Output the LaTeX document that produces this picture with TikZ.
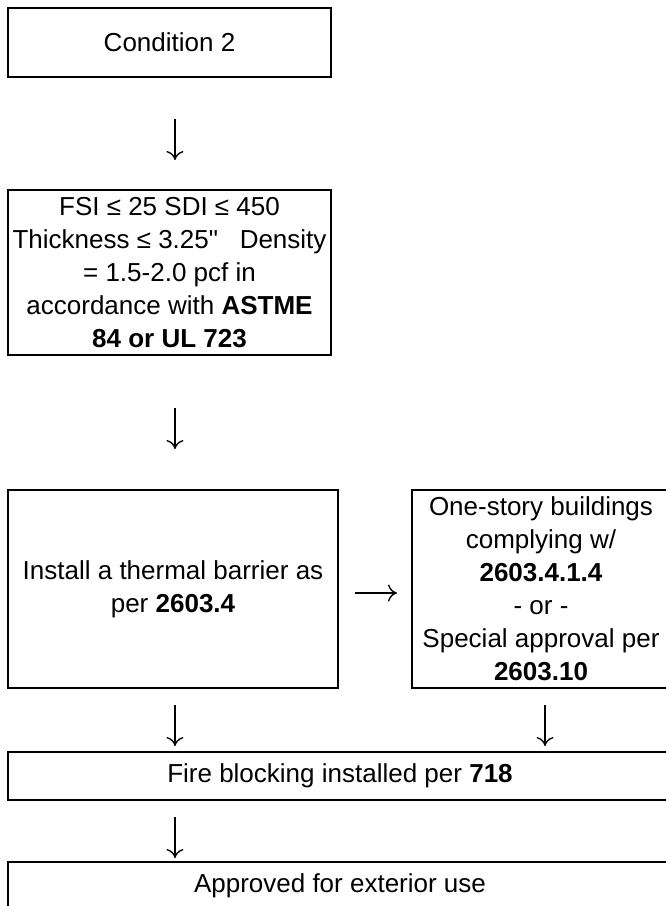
\documentclass[tikz,border=0pt]{standalone}
\usepackage{fontspec}
\setmainfont{Liberation Sans}[Ligatures=TeXOff]
\usetikzlibrary{arrows.meta}

\begin{document}
\begin{tikzpicture}[x=1pt,y=-1pt,
  box/.style={draw, line width=2.4pt, align=center, inner sep=0pt,
    font=\fontsize{26}{33}\selectfont},
  arr/.style={-{To[length=9pt,width=17pt]}, line width=1.4pt}]
\useasboundingbox (0,0) rectangle (665,906);
\node[box, minimum width=323pt, minimum height=69pt] (cond) at (169.5,42.5) {Condition 2};
\node[box, minimum width=323pt, minimum height=165pt] (limits) at (169.5,272.5)
  {FSI ≤ 25 SDI ≤ 450\\ Thickness ≤ 3.25"\ \ \ Density\\ = 1.5-2.0 pcf in\\
   accordance with \textbf{ASTME}\\ \textbf{84 or UL 723}};
\node[box, minimum width=330pt, minimum height=198pt] (barrier) at (173,589)
  {Install a thermal barrier as\\ per \textbf{2603.4}};
\node[box, minimum width=258pt, minimum height=198pt] (oneStory) at (541,589)
  {One-story buildings\\ complying w/\\ \textbf{2603.4.1.4}\\ - or -\\
   Special approval per\\ \textbf{2603.10}};
\node[box, minimum width=664pt, minimum height=48pt] (fireBlock) at (340,776)
  {Fire blocking installed per \textbf{718}};
\node[box, minimum width=664pt, minimum height=48pt] (approved) at (340,886)
  {Approved for exterior use};
% free standing arrows between the boxes
\coordinate (a1s) at (175,119); \coordinate (a1e) at (175,160);
\coordinate (a2s) at (175,408); \coordinate (a2e) at (175,449);
\coordinate (a3s) at (355,593); \coordinate (a3e) at (397,593);
\coordinate (a4s) at (175,705); \coordinate (a4e) at (175,746);
\coordinate (a5s) at (545,705); \coordinate (a5e) at (545,746);
\coordinate (a6s) at (175,817); \coordinate (a6e) at (175,858);
\draw[arr] (a1s) -- (a1e);
\draw[arr] (a2s) -- (a2e);
\draw[arr] (a3s) -- (a3e);
\draw[arr] (a4s) -- (a4e);
\draw[arr] (a5s) -- (a5e);
\draw[arr] (a6s) -- (a6e);
\end{tikzpicture}
\end{document}
